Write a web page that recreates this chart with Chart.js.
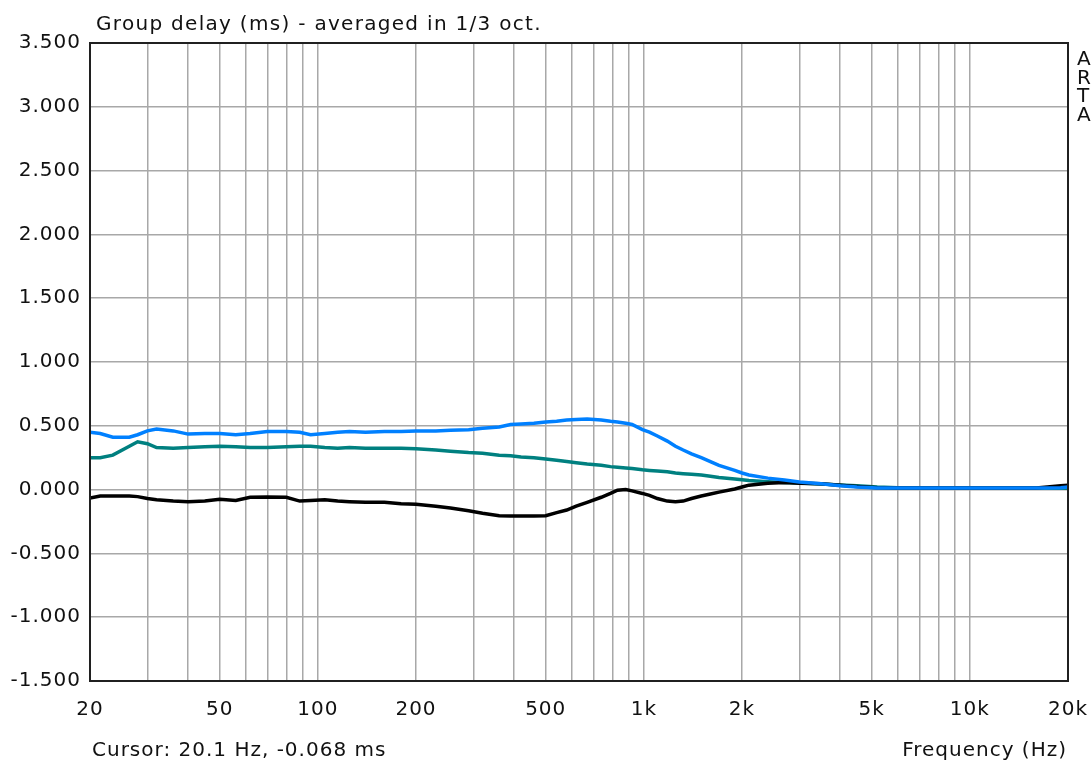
<!DOCTYPE html>
<html>
<head>
<meta charset="utf-8">
<script src="https://cdn.jsdelivr.net/npm/chart.js@4"></script>
<style>
  html, body { margin: 0; padding: 0; background: #fff; }
  #chart { display: block; }
</style>
</head>
<body>
<canvas id="chart" width="1092" height="764"></canvas>
<script>
const frequencies = [20, 21.5, 23.5, 26.4, 28, 30, 32, 36, 40, 45, 50, 56, 62, 70, 80, 88, 95, 105, 115, 125,
  140, 160, 180, 200, 230, 255, 290, 320, 360, 390, 420, 460, 500, 540, 580, 620, 670, 740, 790, 830,
  880, 920, 990, 1040, 1100, 1180, 1250, 1320, 1400, 1500, 1600, 1700, 1900, 2000, 2100, 2400, 2700, 3000, 3500, 4000,
  4500, 5200, 6000, 8000, 10000, 13000, 16000, 19000, 20000];

const delayBlue = [0.45, 0.44, 0.41, 0.41, 0.43, 0.46, 0.475, 0.46, 0.435, 0.44, 0.44, 0.43, 0.44, 0.455, 0.455, 0.45, 0.43, 0.44, 0.45, 0.455,
  0.45, 0.455, 0.455, 0.46, 0.46, 0.465, 0.47, 0.48, 0.49, 0.51, 0.515, 0.52, 0.53, 0.535, 0.545, 0.55, 0.553, 0.545, 0.535, 0.53,
  0.52, 0.51, 0.47, 0.45, 0.42, 0.38, 0.34, 0.31, 0.28, 0.25, 0.22, 0.19, 0.15, 0.13, 0.115, 0.09, 0.075, 0.06, 0.045, 0.03,
  0.02, 0.013, 0.012, 0.012, 0.012, 0.012, 0.012, 0.015, 0.02];

const delayTeal = [0.25, 0.25, 0.27, 0.34, 0.375, 0.36, 0.33, 0.325, 0.33, 0.335, 0.34, 0.335, 0.33, 0.33, 0.335, 0.34, 0.34, 0.33, 0.325, 0.33,
  0.325, 0.325, 0.325, 0.32, 0.31, 0.30, 0.29, 0.285, 0.27, 0.265, 0.255, 0.25, 0.24, 0.23, 0.22, 0.21, 0.20, 0.19, 0.18, 0.175,
  0.17, 0.165, 0.155, 0.15, 0.145, 0.14, 0.13, 0.125, 0.12, 0.114, 0.105, 0.095, 0.083, 0.078, 0.072, 0.062, 0.056, 0.052, 0.044, 0.036,
  0.03, 0.02, 0.015, 0.012, 0.012, 0.012, 0.012, 0.01, 0.01];

const delayBlack = [-0.066, -0.05, -0.05, -0.05, -0.055, -0.07, -0.08, -0.09, -0.095, -0.09, -0.075, -0.085, -0.06, -0.058, -0.06, -0.09, -0.085, -0.08, -0.09, -0.095,
  -0.10, -0.10, -0.11, -0.115, -0.13, -0.145, -0.165, -0.185, -0.205, -0.207, -0.207, -0.207, -0.205, -0.18, -0.16, -0.13, -0.10, -0.06, -0.03, -0.005,
  0.0, -0.01, -0.03, -0.045, -0.07, -0.09, -0.095, -0.09, -0.07, -0.05, -0.035, -0.02, 0.005, 0.02, 0.035, 0.05, 0.055, 0.05, 0.045, 0.035,
  0.025, 0.015, 0.012, 0.012, 0.012, 0.012, 0.012, 0.03, 0.035];

// vertical grid positions and the ones that get a label
const gridFreqs = [20, 30, 40, 50, 60, 70, 80, 90, 100, 200, 300, 400, 500, 600, 700, 800, 900, 1000,
  2000, 3000, 4000, 5000, 6000, 7000, 8000, 9000, 10000, 20000];
const freqLabels = { 20: "20", 50: "50", 100: "100", 200: "200", 500: "500", 1000: "1k", 2000: "2k", 5000: "5k", 10000: "10k", 20000: "20k" };

const FONT = "DejaVu Sans";

function toPoints(values) {
  return frequencies.map(function(f, i) {
    return { x: f, y: values[i] };
  });
}

const textPlugin = {
  id: "artaText",
  beforeDraw: function(chart) {
    const ctx = chart.ctx;
    ctx.fillStyle = "#fff";
    ctx.fillRect(0, 0, chart.width, chart.height);
    ctx.letterSpacing = "1px";
  },
  afterDraw: function(chart) {
    const ctx = chart.ctx;
    const a = chart.chartArea;
    ctx.save();
    ctx.strokeStyle = "#202020";
    ctx.lineWidth = 2;
    ctx.strokeRect(a.left, a.top, a.right - a.left, a.bottom - a.top);

    ctx.letterSpacing = "1.3px";
    ctx.fillStyle = "#111";
    ctx.font = "20px '" + FONT + "'";
    ctx.textBaseline = "alphabetic";
    ctx.textAlign = "left";
    ctx.fillText("Group delay (ms) - averaged in 1/3 oct.", 96, 30);
    ctx.letterSpacing = "1px";
    ctx.fillText("Cursor: 20.1 Hz, -0.068 ms", 92, 756);
    ctx.textAlign = "right";
    ctx.fillText("Frequency (Hz)", 1067, 756);
    ctx.textAlign = "left";
    ["A", "R", "T", "A"].forEach(function(ch, i) {
      ctx.fillText(ch, 1077, 65 + i * 18.5);
    });
    ctx.restore();
  }
};

new Chart(document.getElementById("chart"), {
  type: "line",
  data: {
    datasets: [
      { data: toPoints(delayBlue), borderColor: "#0080ff" },
      { data: toPoints(delayBlack), borderColor: "#000000" },
      { data: toPoints(delayTeal), borderColor: "#008080" }
    ]
  },
  options: {
    responsive: false,
    animation: false,
    elements: {
      line: { borderWidth: 3.5, tension: 0, fill: false },
      point: { radius: 0 }
    },
    layout: { padding: { top: 43, right: 24, left: 0, bottom: 0 } },
    plugins: { legend: { display: false }, tooltip: { enabled: false } },
    scales: {
      x: {
        type: "logarithmic",
        min: 20,
        max: 20000,
        afterBuildTicks: function(scale) {
          scale.ticks = gridFreqs.map(function(v) { return { value: v }; });
        },
        afterFit: function(scale) {
          scale.height = 83;
          scale.paddingLeft = 0;
          scale.paddingRight = 0;
        },
        grid: { color: "#a8a8a8", lineWidth: 1.5, drawTicks: false },
        border: { display: false },
        ticks: {
          autoSkip: false,
          maxRotation: 0,
          padding: 17,
          color: "#111",
          font: { family: FONT, size: 20 },
          callback: function(value) {
            return freqLabels[value] || "";
          }
        }
      },
      y: {
        min: -1.5,
        max: 3.5,
        afterFit: function(scale) {
          scale.width = 90;
          scale.paddingTop = 0;
          scale.paddingBottom = 0;
        },
        grid: { color: "#a8a8a8", lineWidth: 1.5, drawTicks: false },
        border: { display: false },
        ticks: {
          stepSize: 0.5,
          padding: 9,
          color: "#111",
          font: { family: FONT, size: 20 },
          callback: function(value) {
            return value.toFixed(3);
          }
        }
      }
    }
  },
  plugins: [textPlugin]
});
</script>
</body>
</html>
